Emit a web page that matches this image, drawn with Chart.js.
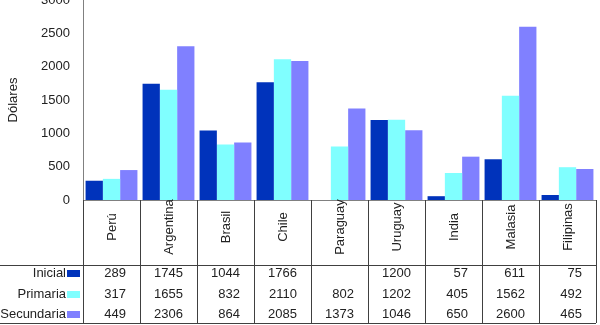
<!DOCTYPE html>
<html>
<head>
<meta charset="utf-8">
<script src="https://cdn.jsdelivr.net/npm/chart.js@4.4.0/dist/chart.umd.min.js"></script>
<style>
  html, body { margin: 0; padding: 0; background: #fff; }
  #wrap { position: relative; width: 600px; height: 325px; }
</style>
</head>
<body>
<div id="wrap"><canvas id="myChart"></canvas></div>
<script>
const categories = ['Perú', 'Argentina', 'Brasil', 'Chile', 'Paraguay', 'Uruguay', 'India', 'Malasia', 'Filipinas'];
const inicial = [289, 1745, 1044, 1766, null, 1200, 57, 611, 75];
const primaria = [317, 1655, 832, 2110, 802, 1202, 405, 1562, 492];
const secundaria = [449, 2306, 864, 2085, 1373, 1046, 650, 2600, 465];
const seriesNames = ['Inicial', 'Primaria', 'Secundaria'];
const seriesColors = ['#0033BB', '#80FFFF', '#8080FF'];
const yTicks = [0, 500, 1000, 1500, 2000, 2500, 3000];

const FONT = '"Liberation Sans", Arial, sans-serif';
const TEXT = '#222';

// data table under the plot, drawn from the x scale positions
const tablePlugin = {
    id: 'dataTable',
    afterDraw(chart) {
        const ctx = chart.ctx;
        const x = chart.scales.x;
        const area = chart.chartArea;
        const half = (x.getPixelForValue(1) - x.getPixelForValue(0)) / 2;
        const left = x.getPixelForValue(0) - half;
        const right = x.getPixelForValue(categories.length - 1) + half;
        const axisY = area.bottom;
        const sepY = axisY + 65;
        const bottomY = axisY + 123;
        const rowsY = [sepY + 8, sepY + 29, sepY + 49];
        const all = [inicial, primaria, secundaria];

        ctx.save();
        // lines
        ctx.strokeStyle = '#808080';
        ctx.lineWidth = 1;
        ctx.beginPath();
        ctx.moveTo(left, axisY + 0.5);
        ctx.lineTo(right, axisY + 0.5);
        ctx.stroke();

        ctx.strokeStyle = '#404040';
        ctx.beginPath();
        for (let i = 0; i <= categories.length; i++) {
            const px = Math.round(left + i * half * 2) + 0.5;
            ctx.moveTo(px, axisY);
            ctx.lineTo(px, bottomY);
        }
        ctx.moveTo(0, sepY + 0.5);
        ctx.lineTo(right, sepY + 0.5);
        ctx.moveTo(0, bottomY + 0.5);
        ctx.lineTo(right, bottomY + 0.5);
        ctx.stroke();

        // category names, rotated
        ctx.fillStyle = TEXT;
        ctx.font = '13px ' + FONT;
        ctx.textAlign = 'center';
        ctx.textBaseline = 'middle';
        categories.forEach((c, i) => {
            ctx.save();
            ctx.translate(x.getPixelForValue(i) + 1, axisY + 27);
            ctx.rotate(-Math.PI / 2);
            ctx.fillText(c, 0, 0);
            ctx.restore();
        });

        // row headers with legend keys
        seriesNames.forEach((n, r) => {
            ctx.textAlign = 'right';
            ctx.fillStyle = TEXT;
            ctx.fillText(n, 66, rowsY[r]);
            ctx.fillStyle = seriesColors[r];
            ctx.fillRect(67, rowsY[r] - 3, 13, 7);
        });

        // values
        ctx.fillStyle = TEXT;
        ctx.textAlign = 'right';
        all.forEach((vals, r) => {
            vals.forEach((v, i) => {
                if (v === null) return;
                ctx.fillText(String(v), x.getPixelForValue(i) + half - 14, rowsY[r]);
            });
        });
        ctx.restore();
    }
};

const chartEl = document.getElementById('myChart');
new Chart(chartEl.getContext('2d'), {
    type: 'bar',
    data: {
        labels: categories,
        datasets: [
            { label: seriesNames[0], data: inicial, backgroundColor: seriesColors[0], borderWidth: 0 },
            { label: seriesNames[1], data: primaria, backgroundColor: seriesColors[1], borderWidth: 0 },
            { label: seriesNames[2], data: secundaria, backgroundColor: seriesColors[2], borderWidth: 0 }
        ]
    },
    options: {
        responsive: true,
        maintainAspectRatio: false,
        animation: false,
        datasets: { bar: { categoryPercentage: 0.91, barPercentage: 1.0 } },
        layout: { padding: { top: 0, right: 4, bottom: 125, left: 0 } },
        plugins: { legend: { display: false }, tooltip: { enabled: false } },
        scales: {
            x: {
                grid: { display: false, drawTicks: false },
                ticks: { display: false },
                border: { display: false }
            },
            y: {
                min: 0,
                max: 3000,
                afterBuildTicks: (s) => { s.ticks = yTicks.map(v => ({ value: v })); },
                afterFit: (s) => { s.width = 83; s.paddingTop = 0; s.paddingBottom = 0; },
                grid: { display: false, drawTicks: false },
                border: { display: true, color: '#808080', width: 1 },
                ticks: {
                    padding: 13,
                    color: TEXT,
                    font: { family: FONT, size: 13 },
                    callback: (v) => String(v)
                },
                title: {
                    display: true,
                    text: 'Dólares',
                    color: TEXT,
                    font: { family: FONT, size: 13 },
                    padding: { top: 6, bottom: 0 }
                }
            }
        }
    },
    plugins: [tablePlugin]
});
</script>
</body>
</html>
